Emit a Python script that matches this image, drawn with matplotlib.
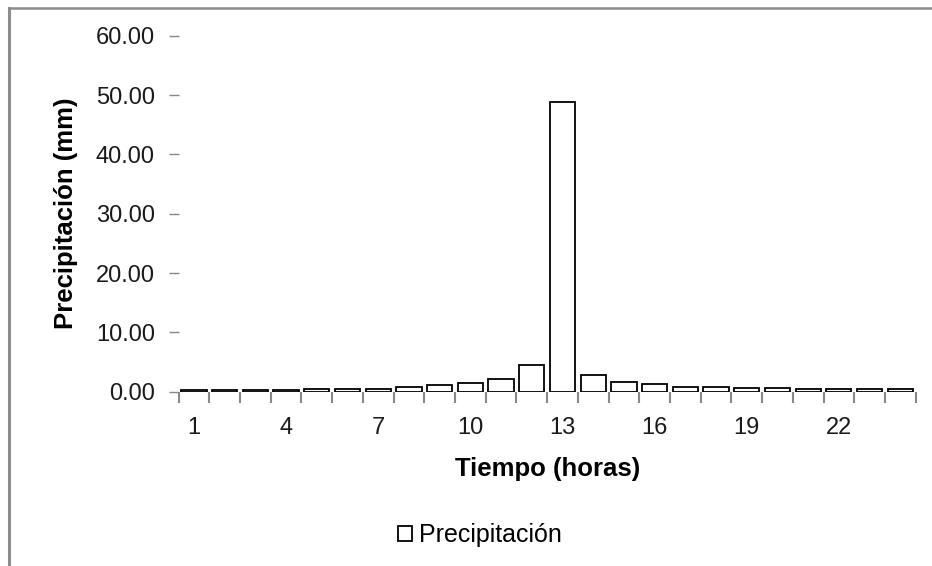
import matplotlib as mpl
mpl.use('Agg')
import matplotlib.pyplot as plt
from matplotlib.lines import Line2D

# data
horas = list(range(1, 25))
precipitacion = [0.3, 0.3, 0.3, 0.3, 0.5, 0.5, 0.5, 0.7, 1.05, 1.4, 2.05, 4.5,
                 48.9, 2.8, 1.55, 1.25, 0.7, 0.7, 0.55, 0.55, 0.35, 0.35, 0.35, 0.35]
etiquetas_x = [1, 4, 7, 10, 13, 16, 19, 22]
ticks_y = [0, 10, 20, 30, 40, 50, 60]

plt.rcParams['font.family'] = ['Liberation Sans', 'DejaVu Sans']

fig = plt.figure(figsize=(9.32, 5.66), dpi=100)
ax = fig.add_axes([0.1916, 0.3083, 0.9825 - 0.1916, 0.9364 - 0.3083])

bars = ax.bar(horas, precipitacion, width=0.82, color='white',
              edgecolor='black', linewidth=1.3, label='Precipitación')

ax.set_xlim(0.5, 24.5)
ax.set_ylim(0, 60)
ax.set_yticks(ticks_y)
ax.set_yticklabels(['%.2f' % v for v in ticks_y], fontsize=17, color='#1a1a1a')
ax.tick_params(axis='y', length=7, width=1, color='#888888', pad=10)

ax.set_xticks(etiquetas_x)
ax.set_xticklabels([str(v) for v in etiquetas_x], fontsize=17, color='#1a1a1a')
ax.set_xticks([h + 0.5 for h in range(0, 25)], minor=True)
ax.tick_params(axis='x', which='major', length=0, pad=18)
ax.tick_params(axis='x', which='minor', length=8, width=1.5, color='#888888')

for s in ax.spines.values():
    s.set_visible(False)

ax.set_ylabel('Precipitación (mm)', fontsize=18.5, fontweight='bold', labelpad=13)
ax.set_xlabel('Tiempo (horas)', fontsize=18.5, fontweight='bold', labelpad=13)

leg = ax.legend(loc='center', bbox_to_anchor=(0.409, -0.404), frameon=False,
                fontsize=18, handlelength=0.55, handleheight=0.55,
                handletextpad=0.3)

# gray chart-area border (left and top only visible)
fig.add_artist(Line2D([9 / 932, 9 / 932], [0, 1 - 7.5 / 566], color='#8c8c8c',
                      lw=2.2, transform=fig.transFigure))
fig.add_artist(Line2D([9 / 932, 931 / 932], [1 - 7.5 / 566, 1 - 7.5 / 566],
                      color='#8c8c8c', lw=1.8, transform=fig.transFigure))

plt.savefig('out.png', dpi=100)
